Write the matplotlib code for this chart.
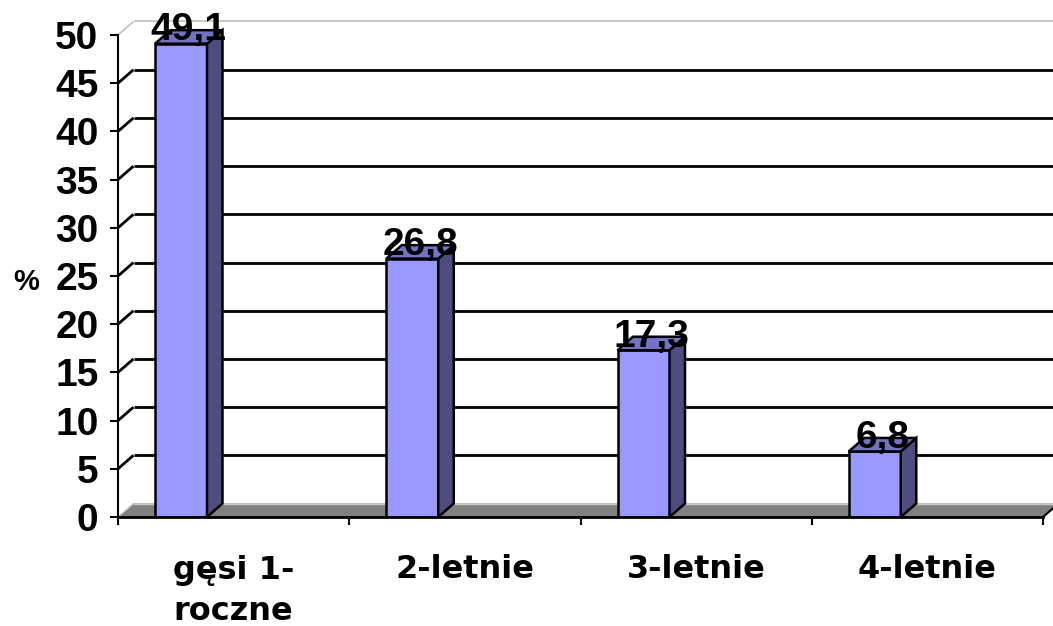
import matplotlib.pyplot as plt
from matplotlib.patches import Polygon

# dane z wykresu
kategorie = ['gęsi 1-\nroczne', '2-letnie', '3-letnie', '4-letnie']
wartosci = [49.1, 26.8, 17.3, 6.8]
y_ticki = list(range(0, 51, 5))

W, H = 1053, 626
fig = plt.figure(figsize=(W / 100, H / 100), dpi=100)

# skala pikseli: 231.25 px na kategorie, 9.64 px na jednostke
px_x = 231.25
px_y = 9.64
left_px, bottom_px, top_px = 118, 517, 10
ax_w = W - left_px
ax = fig.add_axes([left_px / W, (H - bottom_px) / H, ax_w / W, (bottom_px - top_px) / H])
ax.set_xlim(0, ax_w / px_x)
ax.set_ylim(0, (bottom_px - top_px) / px_y)

# glebokosc "3D"
dx = 15.5 / px_x
dy = 13.5 / px_y
xmax = len(kategorie)

# podloga
ax.add_patch(Polygon([(0, 0), (xmax, 0), (xmax + dx, dy), (dx, dy)],
                     closed=True, facecolor='#808080', edgecolor='none', zorder=1))
ax.plot([dx, xmax + dx], [dy, dy], color='#c8c8c8', lw=1.0, zorder=1.5, clip_on=False)
ax.plot([0, dx], [0, dy], color='#c8c8c8', lw=1.0, zorder=1.5)
ax.plot([xmax, xmax + dx], [0, dy], color='black', lw=1.5, zorder=2, clip_on=False)

# linie siatki na tylnej scianie
for v in y_ticki[1:]:
    kolor = '#c0c0c0' if v == y_ticki[-1] else 'black'
    lw = 1.2 if v == y_ticki[-1] else 2.0
    ax.plot([0, dx], [v, v + dy], color=kolor, lw=lw, zorder=1, solid_capstyle='butt')
    ax.plot([dx, xmax + dx], [v + dy, v + dy], color=kolor, lw=lw, zorder=1,
            clip_on=False, solid_capstyle='butt')

# slupki
szer = 52 / px_x
przes = 37 / px_x
for i, v in enumerate(wartosci):
    x0 = i + przes
    x1 = x0 + szer
    ax.add_patch(Polygon([(x0, 0), (x1, 0), (x1, v), (x0, v)], closed=True,
                         facecolor='#9999ff', edgecolor='black', lw=1.8, zorder=3))
    ax.add_patch(Polygon([(x1, 0), (x1 + dx, dy), (x1 + dx, v + dy), (x1, v)], closed=True,
                         facecolor='#4d4d80', edgecolor='black', lw=1.8, zorder=3))
    ax.add_patch(Polygon([(x0, v), (x1, v), (x1 + dx, v + dy), (x0 + dx, v + dy)], closed=True,
                         facecolor='#7373c4', edgecolor='black', lw=1.8, zorder=3))
    ax.text((x0 + x1 + dx) / 2, v + dy, f'{v:.1f}'.replace('.', ','),
            ha='center', va='center', fontsize=28, fontweight='bold',
            family='Liberation Sans', zorder=5)

# osie
for s in ['top', 'right']:
    ax.spines[s].set_visible(False)
ax.spines['left'].set_bounds(0, 50)
ax.spines['bottom'].set_bounds(0, xmax)
ax.spines['left'].set_linewidth(1.5)
ax.spines['bottom'].set_linewidth(2.0)
ax.spines['left'].set_zorder(4)
ax.spines['bottom'].set_zorder(4)

ax.set_yticks(y_ticki)
ax.set_yticklabels([str(t) for t in y_ticki], fontsize=28, fontweight='bold',
                   family='Liberation Sans')
ax.tick_params(axis='y', length=6, width=1.5, pad=8)

ax.set_xticks(range(0, xmax + 1))
ax.set_xticklabels([])
ax.tick_params(axis='x', which='major', length=6, width=1.5)
ax.set_xticks([i + 0.5 for i in range(xmax)], minor=True)
ax.set_xticklabels(kategorie, minor=True, fontsize=23, fontweight='bold',
                   family='DejaVu Sans', linespacing=1.45)
ax.tick_params(axis='x', which='minor', length=0, pad=27)

ax.set_ylabel('%', fontsize=21, fontweight='bold', family='Liberation Sans',
              rotation=0, va='center', labelpad=0)
ax.yaxis.set_label_coords((26 - left_px) / ax_w, 24.4 / ax.get_ylim()[1])

fig.savefig('out.png', dpi=100)
